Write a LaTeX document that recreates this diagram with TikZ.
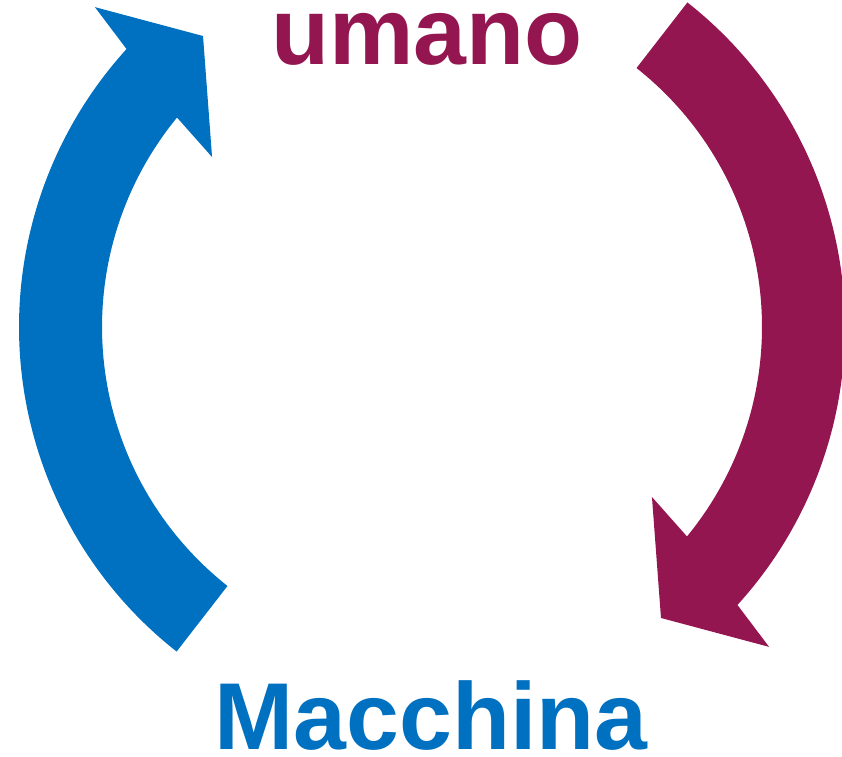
\documentclass[tikz,border=0pt]{standalone}
\usepackage{fontspec}
\setmainfont{Liberation Sans}
\definecolor{cycleblue}{HTML}{0070C0}
\definecolor{cyclered}{HTML}{941651}
\begin{document}
\begin{tikzpicture}[x=1pt,y=1pt,
  label text/.style={font=\fontsize{95}{114}\selectfont\bfseries, inner sep=0pt, anchor=base},
  cyclearrow/.style={draw=none}]
\useasboundingbox (0,0) rectangle (842,756);
% curved arrow around the centre, drawn twice (second one turned half a revolution)
\foreach \ang/\col in {0/cycleblue, 180/cyclered}{
  \begin{scope}[shift={(432,429)}, rotate=\ang]
    \fill[\col] (231.8:413) arc[start angle=231.8, end angle=137.7, radius=413]
      -- (136.5:464.7) -- (128.2:370.3) -- (142.3:278) -- (140.6:330)
      arc[start angle=140.6, end angle=231.7, radius=330] -- cycle;
  \end{scope}
}
\node[label text, text=cyclered] (umano) at (427,691) {umano};
\node[label text, text=cycleblue] (macchina) at (431,7) {Macchina};
\end{tikzpicture}
\end{document}
